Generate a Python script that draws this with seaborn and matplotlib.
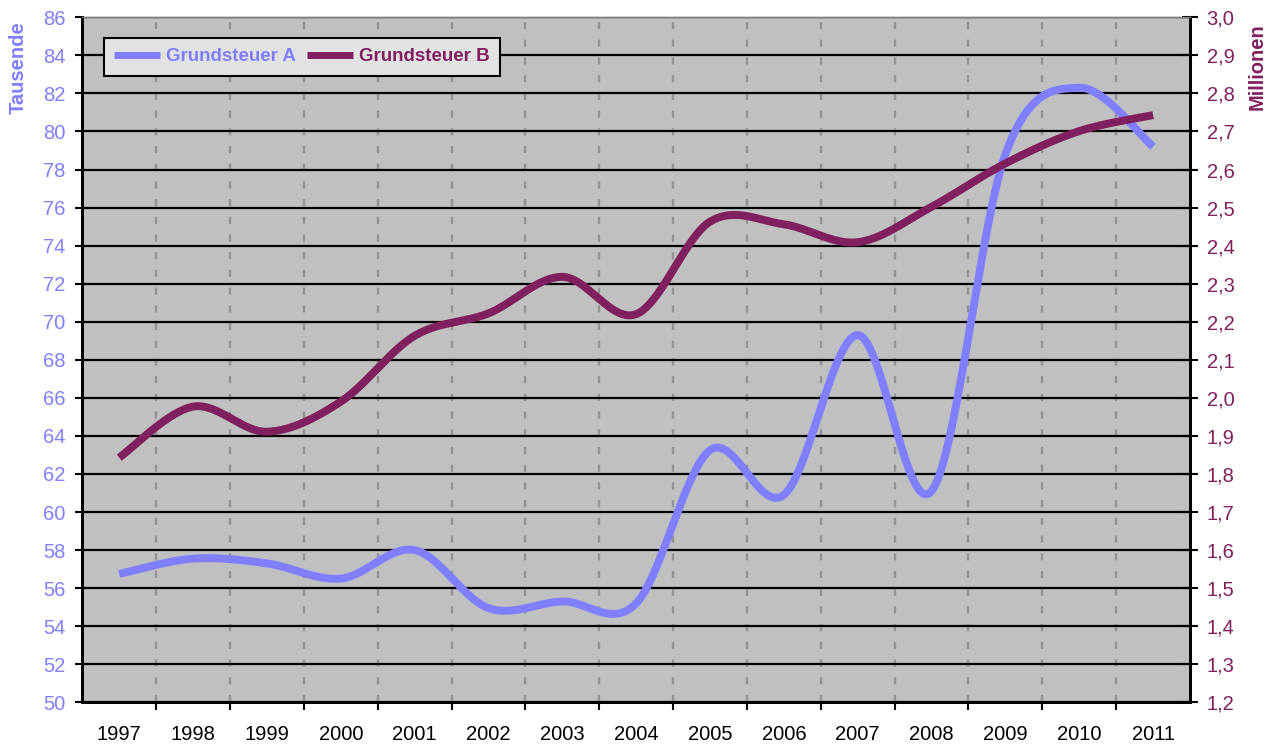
import numpy as np
import pandas as pd
import matplotlib
matplotlib.use("Agg")
import matplotlib.pyplot as plt
import seaborn as sns
from matplotlib.ticker import FixedLocator, FuncFormatter
from matplotlib.lines import Line2D

# ---------------- data ----------------
years = ["1997", "1998", "1999", "2000", "2001", "2002", "2003", "2004",
         "2005", "2006", "2007", "2008", "2009", "2010", "2011"]
grundsteuer_a = [56.75, 57.55, 57.3, 56.5, 58.0, 54.95, 55.3, 55.2,
                 63.25, 60.9, 69.3, 61.1, 78.8, 82.3, 79.2]          # Tausende
grundsteuer_b = [1.843, 1.977, 1.911, 1.990, 2.163, 2.222, 2.318, 2.220,
                 2.463, 2.456, 2.409, 2.502, 2.616, 2.701, 2.743]    # Millionen
left_ticks = list(range(50, 87, 2))
right_ticks = [round(1.2 + 0.1 * i, 1) for i in range(19)]

COL_A = "#8080FF"
COL_B = "#80205F"


def smooth(vals, n=40):
    """Excel-style smoothed line (Catmull-Rom Bezier through the points)."""
    y = np.asarray(vals, float)
    x = np.arange(len(y), dtype=float)
    ey = np.concatenate([[y[0]], y, [y[-1]]])
    ex = np.concatenate([[x[0]], x, [x[-1]]])
    xs, ys = [], []
    for i in range(len(y) - 1):
        segs = []
        for e in (ex, ey):
            p0, p1, p2, p3 = e[i], e[i + 1], e[i + 2], e[i + 3]
            c1 = p1 + (p2 - p0) / 6.0
            c2 = p2 - (p3 - p1) / 6.0
            t = np.linspace(0, 1, n, endpoint=(i == len(y) - 2))
            segs.append((1 - t) ** 3 * p1 + 3 * (1 - t) ** 2 * t * c1
                        + 3 * (1 - t) * t ** 2 * c2 + t ** 3 * p2)
        xs.append(segs[0])
        ys.append(segs[1])
    return np.concatenate(xs), np.concatenate(ys)


xa, ya = smooth(grundsteuer_a)
xb, yb = smooth(grundsteuer_b)
df_a = pd.DataFrame({"x": xa, "y": ya, "serie": "Grundsteuer A"})
df_b = pd.DataFrame({"x": xb, "y": yb, "serie": "Grundsteuer B"})

sns.set_theme(style="white")
plt.rcParams["font.family"] = ["Liberation Sans", "DejaVu Sans"]

FS = 14.5

fig = plt.figure(figsize=(12.79, 7.49), dpi=100)
ax = fig.add_axes([82.3 / 1279, 1 - 702.3 / 749, (1190 - 82.3) / 1279, (702.3 - 17.3) / 749])
ax.set_facecolor("#C0C0C0")
ax.set_zorder(1)

sns.lineplot(data=df_a, x="x", y="y", ax=ax, color=COL_A, linewidth=5.7,
             sort=False, estimator=None, legend=False, solid_capstyle="butt")
ax.set_xlim(-0.5, len(years) - 0.5)
ax.set_ylim(50, 86)

ax2 = ax.twinx()
sns.lineplot(data=df_b, x="x", y="y", ax=ax2, color=COL_B, linewidth=5.7,
             sort=False, estimator=None, legend=False, solid_capstyle="butt")
ax2.set_ylim(1.2, 3.0)
ax2.set_xlim(-0.5, len(years) - 0.5)

# gridlines
ax.yaxis.set_major_locator(FixedLocator(left_ticks))
ax.xaxis.set_major_locator(FixedLocator(range(len(years))))
ax.xaxis.set_minor_locator(FixedLocator(np.arange(0.5, len(years) - 0.5, 1)))
ax.set_xticklabels(years)
ax.grid(False)
ax.grid(True, axis="y", which="major", color="black", linewidth=1.6)
ax.grid(True, axis="x", which="minor", color="#939393", linewidth=1.7,
        linestyle=(0, (3, 4.5)))
ax.set_axisbelow(True)

# ticks
ax.tick_params(axis="y", which="major", direction="out", length=5, width=1.5,
               color="black", labelcolor=COL_A, labelsize=FS, pad=7, left=True)
ax.tick_params(axis="x", which="major", length=0, labelsize=FS, labelcolor="black", pad=16)
ax.tick_params(axis="x", which="minor", direction="out", length=6, width=1.5,
               color="black", bottom=True)
ax2.yaxis.set_major_locator(FixedLocator(right_ticks))
ax2.yaxis.set_major_formatter(FuncFormatter(lambda v, p: f"{v:.1f}".replace(".", ",")))
ax2.tick_params(axis="y", which="major", direction="inout", length=12, width=1.5,
                color="black", labelcolor=COL_B, labelsize=FS, pad=6, right=True)
ax2.grid(False)
ax.set_xlabel("")
ax.set_ylabel("")
ax2.set_xlabel("")
ax2.set_ylabel("")

for a in (ax, ax2):
    for s in ("left", "right", "bottom"):
        a.spines[s].set_color("black")
        a.spines[s].set_linewidth(2)
    a.spines["top"].set_color("#808080")
    a.spines["top"].set_linewidth(1)

# axis titles
fig.text(18 / 1279, 1 - 68 / 749, "Tausende", rotation=90, color=COL_A,
         fontsize=FS, fontweight="bold", ha="center", va="center")
fig.text(1257 / 1279, 1 - 67 / 749, "Millionen", rotation=90, color=COL_B,
         fontsize=FS, fontweight="bold", ha="center", va="center")

# legend
handles = [Line2D([], [], color=COL_A, linewidth=5, solid_capstyle="butt"),
           Line2D([], [], color=COL_B, linewidth=5, solid_capstyle="butt")]
leg = ax2.legend(handles, ["Grundsteuer A", "Grundsteuer B"], ncol=2,
                 loc="upper left", bbox_to_anchor=(0.0196, 0.9698),
                 borderaxespad=0, frameon=True, fancybox=False,
                 facecolor="#E2E2E2", edgecolor="black", framealpha=1,
                 prop={"size": 13.5, "weight": "bold"}, handlelength=2.45,
                 handletextpad=0.3, columnspacing=0.6, borderpad=0.55)
leg.get_frame().set_linewidth(1.5)
for txt, c in zip(leg.get_texts(), (COL_A, COL_B)):
    txt.set_color(c)

fig.savefig("out.png", dpi=100)
